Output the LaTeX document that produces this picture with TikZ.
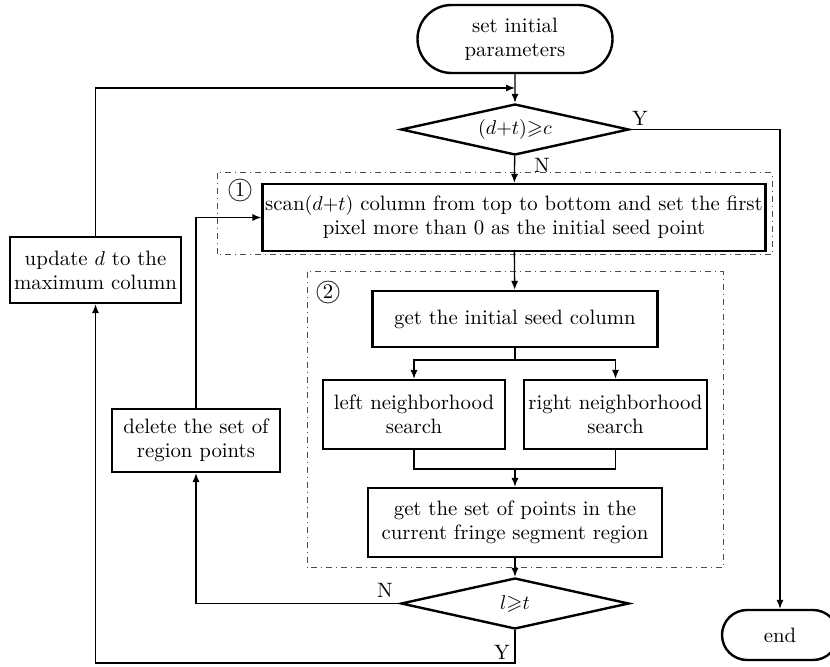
\documentclass[tikz,border=0pt]{standalone}
\usepackage{amssymb}
\usetikzlibrary{shapes.geometric,shapes.misc,arrows.meta}

\tikzset{
    every node/.style={font=\fontsize{10.4}{12}\selectfont},
    procbox/.style={draw, line width=1.2pt, rectangle, inner sep=0pt, align=center},
    termbox/.style={draw, line width=1.2pt, rounded rectangle, inner sep=0pt, align=center},
    decbox/.style={draw, line width=1.2pt, diamond, aspect=4.5, inner sep=0pt, minimum width=114pt, minimum height=25.5pt},
    groupbox/.style={draw=black!70, line width=0.5pt, dash dot},
    conn/.style={line width=0.65pt, -{Latex[length=4.5pt,width=3.6pt]}},
    tag/.style={draw=black!80, circle, line width=0.45pt, inner sep=0pt, minimum size=11pt},
}

\begin{document}
\begin{tikzpicture}[x=0.5pt, y=-0.5pt]
    \useasboundingbox (0,0) rectangle (830,667);

    % 虚线框
    \draw[groupbox] (217,173) rectangle (772,255);
    \draw[groupbox] (307,272) rectangle (723,568);
    \node[tag] (tagA) at (240,190) {1};
    \node[tag] (tagB) at (328,292) {2};

    % 主干节点
    \node[termbox, minimum width=97.5pt, minimum height=34pt] (start) at (515,39) {set initial\\parameters};
    \node[decbox] (cond) at (515,129.5) {$(d{+}t){\geqslant}c$};
    \node[procbox, minimum width=251.5pt, minimum height=33.5pt] (scan) at (514,217.5)
        {scan$(d{+}t)$ column from top to bottom and set the first\\pixel more than 0 as the initial seed point};
    \node[procbox, minimum width=142.5pt, minimum height=28pt] (seed) at (515,319) {get the initial seed column};
    \node[procbox, minimum width=91pt, minimum height=34.5pt] (lnb) at (414,414.5) {left neighborhood\\search};
    \node[procbox, minimum width=91.5pt, minimum height=34.5pt] (rnb) at (615.5,414.5) {right neighborhood\\search};
    \node[procbox, minimum width=147pt, minimum height=34.5pt] (region) at (515,522.5)
        {get the set of points in the\\current fringe segment region};
    \node[decbox] (len) at (515,603.5) {$l{\geqslant}t$};

    % 旁路节点
    \node[procbox, minimum width=85.5pt, minimum height=33pt] (update) at (95.5,270) {update $d$ to the\\maximum column};
    \node[procbox, minimum width=84pt, minimum height=31.5pt] (delete) at (196,440.5) {delete the set of\\region points};
    \node[termbox, minimum width=58pt, minimum height=25pt] (end) at (780,635) {end};

    % 辅助点
    \coordinate (join) at (515,88);
    \coordinate (split) at (515,360);
    \coordinate (merge) at (515,469);
    \coordinate (rturn) at (780,129.5);
    \coordinate (bturn) at (515,663);

    % 主干连线
    \draw[conn] (start) -- (cond);
    \draw[conn] (cond) -- (scan);
    \draw[conn] (scan) -- (seed);
    \draw[line width=0.65pt] (seed) -- (split);
    \draw[conn] (split) -| (lnb);
    \draw[conn] (split) -| (rnb);
    \draw[line width=0.65pt] (lnb.south) |- (merge) -| (rnb.south);
    \draw[conn] (merge) -- (region);
    \draw[conn] (region) -- (len);

    % 判断分支
    \draw[conn] (cond.east) -- (rturn) -- (end.north);
    \draw[conn] (len.west) -| (delete.south);
    \draw[conn] (delete.north) |- (scan.west);
    \draw[conn] (len.south) -- (bturn) -| (update.south);
    \draw[conn] (update.north) |- (join);

    % 分支标注
    \node (ylab1) at (640,118) {Y};
    \node (nlab1) at (542,165) {N};
    \node (nlab2) at (385,590) {N};
    \node (ylab2) at (502,652) {Y};
\end{tikzpicture}
\end{document}
